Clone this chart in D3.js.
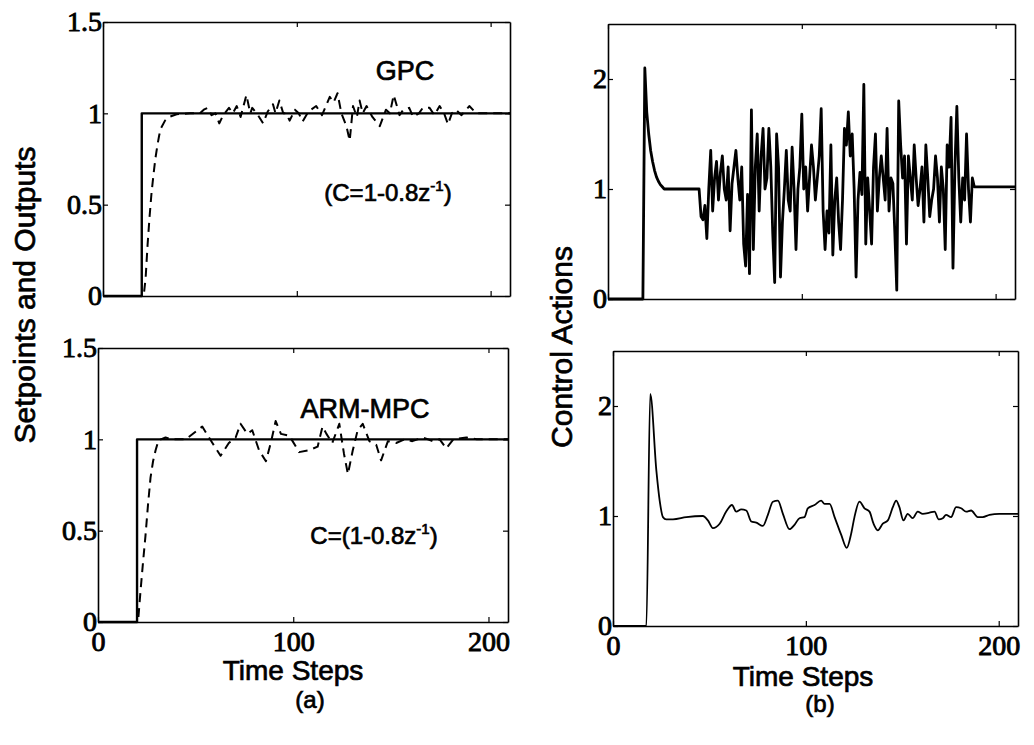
<!DOCTYPE html>
<html>
<head>
<meta charset="utf-8">
<script src="https://cdn.jsdelivr.net/npm/d3@7"></script>
<style>
body { margin: 0; background: #fff; }
.tick text { font-family: "Liberation Serif", "Times New Roman", serif; font-size: 28px; fill: #000; stroke: #000; stroke-width: 0.9px; }
.lbl { font-family: "Liberation Sans", Arial, sans-serif; fill: #000; stroke: #000; stroke-width: 0.7px; }
</style>
</head>
<body>
<svg id="fig" width="1034" height="745"></svg>
<script>
// ---- data ----
const xTicks = [0, 100, 200]

// setpoint (same in both output panels)
const tSet = [0, 20, 20, 210]
const ySet = [0, 0, 1, 1]

// GPC output (dashed), top left
const tGpcY = [0, 21, 22, 23, 24, 25, 26, 27, 28, 29, 30, 32, 34, 38, 45, 50, 52, 54, 56, 58, 60, 62, 65, 67, 69, 71, 74, 76, 77, 80, 82.6, 85, 87.7, 89, 91, 93, 94.6, 96.3, 99, 101, 103, 106, 110, 113, 117, 119, 121, 123, 125.6, 127.3, 129, 131, 132.4, 134, 136, 139, 142.8, 146, 148, 150, 153, 155, 158, 160, 163, 165, 168.5, 171, 173.7, 176, 178, 180, 182, 185, 189, 192.6, 210]
const vGpcY = [0, 0, 0.1, 0.28, 0.43, 0.56, 0.66, 0.75, 0.82, 0.88, 0.92, 0.96, 0.98, 0.995, 1.0, 1.0, 1.02, 1.03, 0.99, 1.0, 0.945, 0.99, 1.03, 1.0, 1.04, 0.98, 1.1, 1.0, 1.03, 0.99, 0.945, 1.01, 1.05, 1.0, 1.07, 1.0, 1.0, 0.96, 1.02, 1.0, 0.955, 1.01, 1.04, 0.99, 1.09, 1.06, 1.11, 1.0, 0.93, 0.85, 1.04, 0.98, 1.07, 1.0, 1.04, 0.98, 0.93, 1.02, 1.0, 1.1, 0.99, 1.02, 1.03, 0.98, 1.0, 1.03, 1.03, 0.99, 1.04, 1.0, 0.94, 1.0, 1.02, 0.99, 1.04, 1.0, 1.0]

// ARM-MPC output (dashed), bottom left
const tArmY = [0, 20.5, 21.7, 23, 24.3, 25.6, 26.9, 28.2, 29.5, 31, 34.6, 38, 45, 53.4, 58.6, 62.8, 67, 70.5, 73, 76.5, 79, 82.5, 86, 88.5, 91, 93.7, 98, 103, 108, 112.5, 115, 117, 120, 123.6, 126, 128, 130.5, 133, 135.6, 139, 142.5, 145, 148.5, 152.7, 157, 161, 166.4, 171.6, 175, 178.4, 182, 188.7, 194, 210]
const vArmY = [0, 0, 0.16, 0.32, 0.47, 0.64, 0.79, 0.88, 0.94, 0.995, 1.01, 1.0, 1.0, 1.07, 0.98, 0.91, 0.98, 1.01, 1.085, 1.03, 1.05, 0.94, 0.88, 0.98, 1.1, 1.03, 1.02, 0.93, 0.94, 0.96, 1.07, 1.03, 0.98, 1.085, 0.92, 0.81, 0.94, 1.05, 1.085, 0.99, 0.97, 0.885, 0.99, 0.98, 1.0, 0.99, 1.01, 0.99, 1.0, 0.95, 1.0, 1.01, 1.0, 1.0]

// GPC control action, one value per step starting at step 18
const uGpcStart = 18
const uGpc = [
  0, 2.1, 1.7, 1.5, 1.35, 1.25, 1.17, 1.11, 1.07, 1.04,
  1.02, 1.0, 1.0, 1.0, 1.0, 1.0, 1.0, 1.0, 1.0, 1.0,
  1.0, 1.0, 1.0, 1.0, 1.0, 1.0, 1.0, 1.0, 1.0, 1.0,
  0.75, 0.72, 0.85, 0.55, 1.0, 1.35, 0.8, 1.1, 1.25, 0.9,
  1.15, 1.3, 1.0, 0.9, 1.2, 0.62, 1.05, 1.2, 1.35, 1.1,
  0.9, 1.2, 0.5, 0.3, 0.95, 0.23, 1.72, 0.45, 1.2, 1.5,
  0.8, 1.3, 1.55, 1.0, 1.1, 1.55, 1.2, 0.6, 0.15, 1.5,
  1.2, 0.2, 0.7, 1.0, 1.35, 0.9, 0.8, 1.38, 1.0, 0.45,
  1.0, 1.2, 1.68, 1.0, 1.2, 0.8, 1.1, 1.4, 1.2, 0.9,
  1.1, 1.3, 1.73, 0.8, 0.45, 0.8, 0.6, 1.4, 0.4, 0.9,
  1.1, 0.7, 0.45, 0.9, 1.55, 1.4, 1.7, 1.3, 1.5, 1.0,
  0.2, 0.9, 1.15, 0.95, 1.95, 0.5, 1.1, 0.8, 0.5, 1.2,
  1.5, 0.8, 1.1, 1.3, 1.1, 0.9, 1.55, 0.8, 1.1, 1.05,
  0.6, 0.08, 1.8, 1.4, 1.1, 1.3, 0.5, 1.3, 1.1, 0.9,
  1.4, 1.1, 0.85, 1.0, 1.2, 0.7, 1.4, 1.1, 0.75, 0.9,
  1.0, 1.3, 1.1, 0.7, 1.2, 1.0, 0.45, 1.4, 1.2, 1.65,
  0.28, 1.2, 1.75, 1.1, 0.7, 1.1, 0.9, 1.5, 1.0, 0.7,
  1.1, 1.02
]
const uGpcEnd = [210, 1.02]

// ARM-MPC control action, bottom right
const tArmU = [0, 17.3, 19.3, 22.5, 24.2, 25.9, 27.6, 31.1, 38, 46.6, 49.2, 51.8, 55.3, 58.7, 61.7, 63.9, 66.5, 69.1, 71.7, 74.3, 77.7, 80.3, 82.9, 85.5, 88.1, 91.5, 94.1, 96.7, 99.3, 101, 104.5, 107.9, 109.7, 112.3, 114.9, 118.3, 121.2, 123.5, 125.2, 127.8, 130.4, 133, 135.1, 137.3, 139.9, 142.5, 145.1, 146.8, 148.5, 150.6, 152.8, 155.4, 158, 160.6, 164.1, 166.7, 168.9, 171, 172.7, 175.3, 177.9, 180.5, 183.1, 185.7, 189.1, 191.7, 195.2, 200.3, 210]
const vArmU = [0, 0, 2.11, 1.41, 1.14, 0.99, 0.97, 0.97, 0.99, 1.0, 0.96, 0.89, 0.93, 1.04, 1.1, 1.04, 1.06, 1.05, 0.95, 0.94, 0.91, 1.01, 1.13, 1.14, 1.02, 0.88, 0.92, 0.98, 0.99, 1.07, 1.1, 1.14, 1.11, 1.11, 0.99, 0.83, 0.71, 0.84, 0.99, 1.13, 1.07, 1.04, 0.93, 0.87, 0.93, 0.96, 1.08, 1.14, 1.08, 0.96, 1.02, 0.98, 1.04, 1.02, 1.03, 1.04, 0.97, 0.98, 1.01, 0.99, 1.08, 1.07, 1.04, 1.05, 0.99, 0.99, 1.01, 1.02, 1.02]

// ---- layout ----
const svg = d3.select("#fig")

function zip(ts, vs) { return ts.map((t, i) => [t, vs[i]]) }

let gpcU = [[0, 0]]
uGpc.forEach((v, i) => gpcU.push([uGpcStart + i, v]))
gpcU.push(uGpcEnd)

const panels = [
  { x0: 103, x1: 510, y0: 22, y1: 296, yDom: [0, 1.5], yTicks: [0, 0.5, 1, 1.5], xLabels: false,
    lines: [{ d: zip(tSet, ySet), w: 2.4 }, { d: zip(tGpcY, vGpcY), w: 2, dash: "9,6" }] },
  { x0: 608, x1: 1015, y0: 24, y1: 299, yDom: [0, 2.5], yTicks: [0, 1, 2], xLabels: false,
    lines: [{ d: gpcU, w: 2.8 }] },
  { x0: 98, x1: 508, y0: 348, y1: 622, yDom: [0, 1.5], yTicks: [0, 0.5, 1, 1.5], xLabels: true,
    lines: [{ d: zip(tSet, ySet), w: 2.4 }, { d: zip(tArmY, vArmY), w: 2, dash: "9,6" }] },
  { x0: 613, x1: 1018, y0: 351, y1: 626, yDom: [0, 2.5], yTicks: [0, 1, 2], xLabels: true,
    lines: [{ d: zip(tArmU, vArmU), w: 1.8, smooth: true }] }
]

panels.forEach(p => {
  let x = d3.scaleLinear().domain([0, 210]).range([p.x0, p.x1])
  let y = d3.scaleLinear().domain(p.yDom).range([p.y1, p.y0])
  let g = svg.append("g")

  p.lines.forEach(l => {
    let line = d3.line().x(d => x(d[0])).y(d => y(d[1]))
    if (l.smooth) line.curve(d3.curveMonotoneX)
    g.append("path")
      .datum(l.d)
      .attr("d", line)
      .attr("fill", "none")
      .attr("stroke", "#000")
      .attr("stroke-width", l.w)
      .attr("stroke-linejoin", "round")
      .attr("stroke-dasharray", l.dash || null)
  })

  // frame with inward ticks, matlab style
  let fmt = d => d3.format("")(d)
  g.append("g").attr("transform", "translate(" + p.x0 + ",0)")
    .call(d3.axisLeft(y).tickValues(p.yTicks).tickSize(-5).tickSizeOuter(0).tickPadding(1).tickFormat(fmt))
  g.append("g").attr("transform", "translate(" + p.x1 + ",0)")
    .call(d3.axisRight(y).tickValues(p.yTicks).tickSize(-5).tickSizeOuter(0).tickFormat(""))
  g.append("g").attr("transform", "translate(0," + p.y0 + ")")
    .call(d3.axisTop(x).tickValues(xTicks).tickSize(-5).tickSizeOuter(0).tickFormat(""))
  let bx = d3.axisBottom(x).tickValues(xTicks).tickSize(-5).tickSizeOuter(0).tickPadding(9)
  if (!p.xLabels) bx.tickFormat("")
  g.append("g").attr("transform", "translate(0," + p.y1 + ")").call(bx)
  g.selectAll(".domain").attr("stroke", "#000").attr("stroke-width", 1.6)
  g.selectAll(".tick line").attr("stroke", "#000").attr("stroke-width", 1.2)
})

// ---- texts ----
function label(txt, x, y, size, rot) {
  let t = svg.append("text").attr("class", "lbl")
    .attr("text-anchor", "middle")
    .attr("font-size", size)
    .attr("transform", "translate(" + x + "," + y + ")" + (rot ? " rotate(-90)" : ""))
    .text(txt)
  return t
}
label("Setpoints and Outputs", 35, 295, 30, true)
label("Control Actions", 572, 347, 30, true)
label("Time Steps", 293, 680, 28)
label("Time Steps", 803, 686, 28)
label("(a)", 310, 708, 24)
label("(b)", 820, 712, 24)
label("GPC", 405, 80, 27)
label("ARM-MPC", 365, 418, 27)

function formula(pre, post, x, y) {
  let t = svg.append("text").attr("class", "lbl").attr("font-size", 24)
    .attr("text-anchor", "middle").attr("x", x).attr("y", y)
  t.append("tspan").text(pre)
  t.append("tspan").attr("font-size", 15).attr("dy", -10).text("-1")
  t.append("tspan").attr("dy", 10).text(post)
}
formula("(C=1-0.8z", ")", 388, 201)
formula("C=(1-0.8z", ")", 374, 544)
</script>
</body>
</html>
